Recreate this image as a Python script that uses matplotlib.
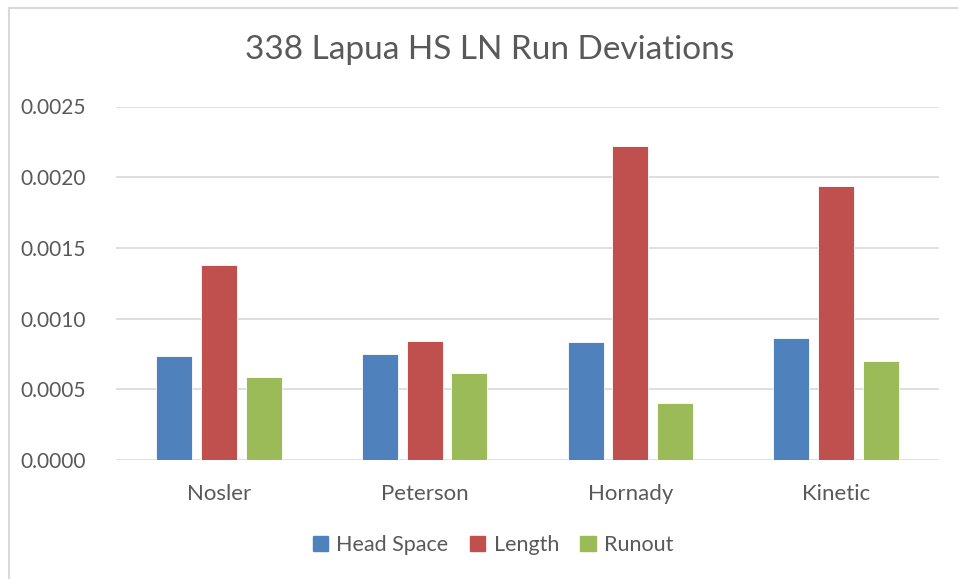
import matplotlib
matplotlib.use("Agg")
import matplotlib.pyplot as plt
from matplotlib.lines import Line2D
import numpy as np

categories = ["Nosler", "Peterson", "Hornady", "Kinetic"]
series_names = ["Head Space", "Length", "Runout"]
head_space = [0.000735, 0.000747, 0.000835, 0.00086]
length = [0.00138, 0.000839, 0.00222, 0.001936]
runout = [0.000585, 0.000615, 0.000401, 0.000698]
yticks = [0.0, 0.0005, 0.0010, 0.0015, 0.0020, 0.0025]
title = "338 Lapua HS LN Run Deviations"

colors = ["#4f81bd", "#c0504d", "#9bbb59"]
plt.rcParams['font.family'] = ['Lato', 'DejaVu Sans']
W, H = 958, 579
fig = plt.figure(figsize=(W / 100, H / 100), dpi=100)
ax = fig.add_axes([116 / W, 1 - 460 / H, (939 - 116) / W, (460 - 106.5) / H])

x = np.arange(len(categories)) + 0.5
bw = 0.175
step = 0.218
for i, (vals, name) in enumerate(zip([head_space, length, runout], series_names)):
    ax.bar(x + (i - 1) * step, vals, width=bw, color=colors[i], label=name,
           edgecolor="white", linewidth=0.6, zorder=3)

ax.set_xlim(0, 4)
ax.set_ylim(0, 0.0025)
ax.set_yticks(yticks)
ax.set_yticklabels([f"{v:.4f}" for v in yticks])
ax.set_xticks(x)
ax.set_xticklabels(categories)
ax.grid(axis="y", color="#d9d9d9", linewidth=1.2, zorder=0)
for s in ax.spines.values():
    s.set_visible(False)
ax.tick_params(axis="y", length=0, labelsize=15, colors="#595959", pad=22)
ax.tick_params(axis="x", length=0, labelsize=16, colors="#595959", pad=17)

fig.text(490 / W, 1 - 50 / H, title, ha="center", va="center", fontsize=24, color="#595959")

handles = [plt.Rectangle((0, 0), 1, 1, color=c) for c in colors]
fig.legend(handles, series_names, loc="center", bbox_to_anchor=(493 / W, 1 - 545 / H),
           ncol=3, frameon=False, fontsize=15.5, labelcolor="#595959",
           handlelength=0.7, handleheight=0.7, handletextpad=0.4, columnspacing=1.0)

fig.add_artist(Line2D([8.5 / W, 8.5 / W], [0, 1 - 7.5 / H], color="#d9d9d9", linewidth=1.5, transform=fig.transFigure))
fig.add_artist(Line2D([8.5 / W, 1], [1 - 7.5 / H, 1 - 7.5 / H], color="#d9d9d9", linewidth=1.5, transform=fig.transFigure))

fig.savefig("out.png", dpi=100)
